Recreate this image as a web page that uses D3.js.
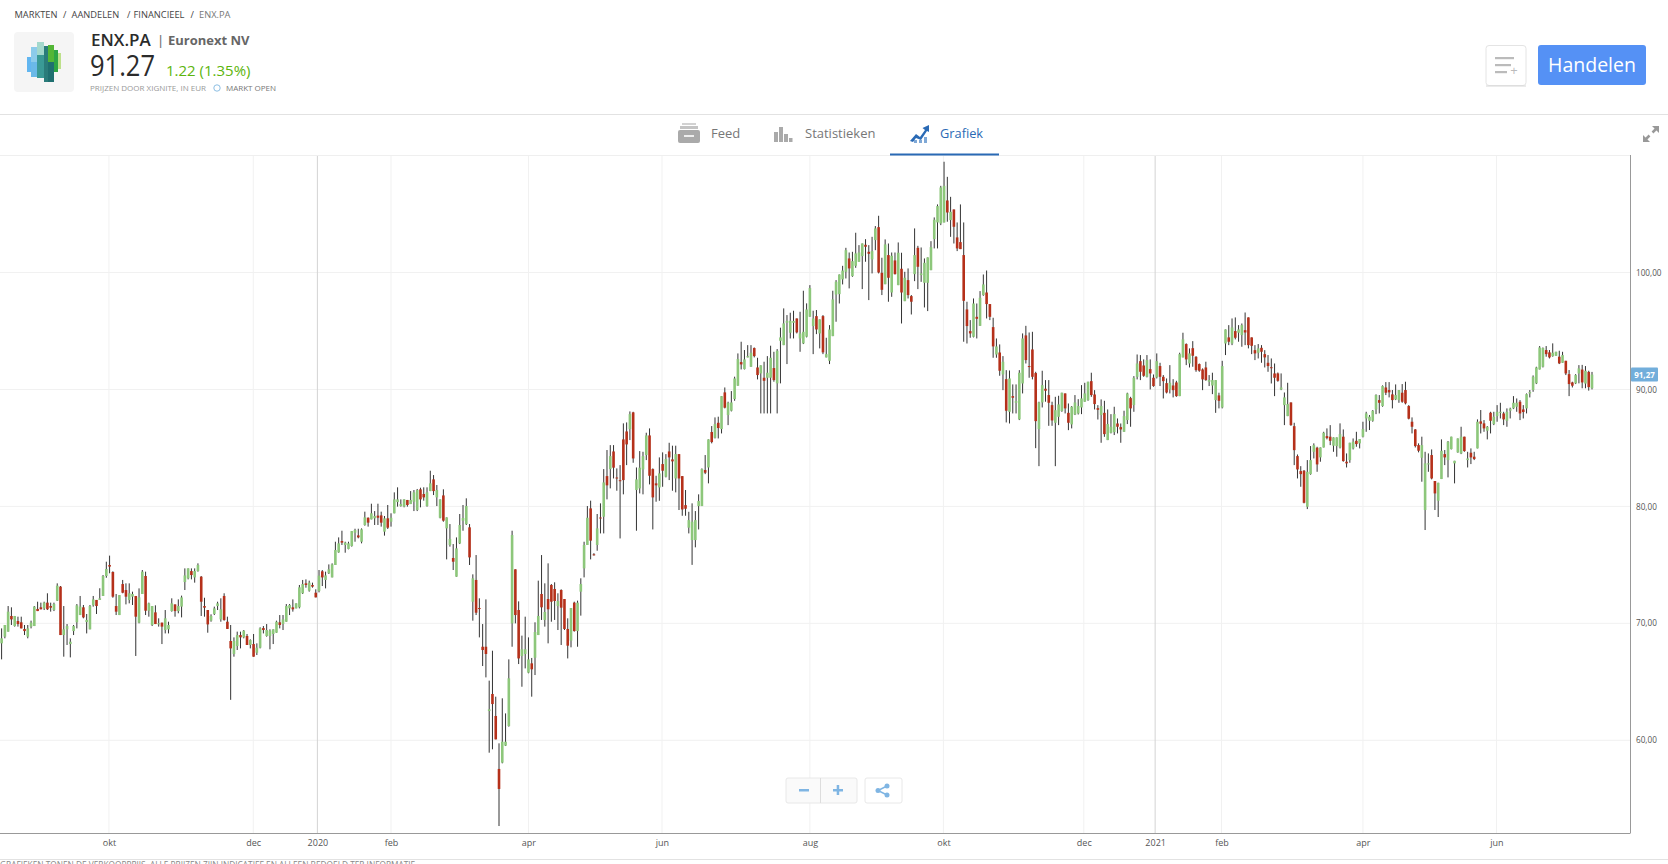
<!DOCTYPE html>
<html>
<head>
<meta charset="utf-8">
<script src="https://cdn.jsdelivr.net/npm/d3@7"></script>
<style>
  body { margin: 0; background: #fff; overflow: hidden; }
  text { font-family: "Open Sans", sans-serif; }
</style>
</head>
<body>
<div id="chart"></div>
<script>
var svgWidth = 1668;
var svgHeight = 864;

// daily prices, ten bars per row
var opens = [
  68.29,68.86,69.29,70.63,69.77,70.2,70.09,69.52,68.86,69.72,
  69.77,71.23,71.37,71.28,71.77,71.48,71.14,71.94,73.14,69.0,
  69.49,68.23,69.34,70.09,70.71,71.37,70.11,69.49,71.54,72.0,
  72.0,72.34,74.05,74.99,74.39,71.48,70.71,73.36,72.85,72.0,
  72.28,72.34,70.06,72.51,74.05,71.08,69.86,70.94,69.94,70.06,
  69.43,69.49,71.05,71.62,71.05,71.43,73.53,73.85,74.47,73.93,
  74.47,73.99,71.48,71.14,70.23,70.8,71.48,70.34,72.34,70.14,
  68.49,67.38,68.06,69.0,68.8,68.92,68.15,68.23,67.49,67.92,
  69.6,68.92,68.92,69.09,69.2,70.09,69.94,70.14,71.28,71.37,
  71.28,71.37,72.57,73.42,72.79,73.28,72.62,72.76,74.45,73.71,
  74.28,73.93,74.99,76.07,77.04,76.7,76.36,76.61,77.75,77.52,
  76.98,78.41,79.03,78.89,78.98,79.21,79.23,77.84,78.98,78.69,
  79.41,80.37,80.03,79.98,80.55,80.2,80.4,79.69,81.46,81.06,
  80.03,81.31,82.31,80.77,79.03,80.94,78.12,76.7,75.59,73.99,
  76.84,78.78,78.49,78.21,71.85,73.71,71.31,68.0,68.0,62.5,
  63.96,62.08,57.55,58.09,59.54,61.22,70.0,74.62,71.14,67.21,
  67.38,65.78,66.58,67.06,69.0,72.51,70.29,72.08,73.28,72.94,
  71.48,72.85,72.08,69.52,68.52,71.77,69.34,72.71,74.7,76.7,
  79.83,75.9,76.7,79.05,79.12,82.59,83.19,84.7,82.47,82.24,
  85.73,86.41,86.61,88.04,81.4,81.54,83.16,84.39,86.07,83.19,
  81.97,81.62,83.62,82.54,84.7,84.02,82.39,84.47,82.59,80.11,
  78.18,77.12,77.12,80.03,80.03,83.11,83.33,86.36,85.87,87.15,
  86.61,89.75,87.81,88.18,89.18,90.32,92.34,91.74,92.74,91.94,
  93.54,91.88,91.37,91.0,91.0,91.0,91.83,90.52,94.16,93.79,
  95.7,94.85,95.7,96.07,94.36,93.94,94.51,96.22,95.42,96.27,
  94.79,96.27,92.74,92.45,94.56,98.12,98.15,99.41,100.06,101.2,
  99.69,100.57,100.92,101.4,102.37,101.77,101.12,102.77,103.88,99.97,
  99.0,101.49,98.29,101.03,98.92,100.32,97.55,99.35,97.98,99.86,
  102.11,99.78,99.12,99.12,100.2,102.85,104.28,104.19,104.28,106.16,
  104.48,105.39,103.0,102.6,101.49,96.84,94.99,94.5,96.21,95.44,
  98.07,98.29,97.3,95.33,92.99,93.16,91.28,90.88,88.09,89.43,
  88.86,87.44,90.51,94.62,92.0,93.42,91.4,86.61,88.89,90.06,
  89.52,88.66,87.15,87.66,88.15,89.66,88.0,87.01,87.86,87.95,
  88.46,88.95,89.09,90.71,89.57,88.4,87.81,88.0,85.67,86.29,
  86.35,87.09,86.78,86.38,87.38,89.26,88.66,91.08,92.42,92.05,
  91.08,91.74,91.0,91.03,92.0,91.08,90.54,90.0,90.34,90.6,
  89.43,92.74,93.88,92.22,93.53,92.79,92.17,91.71,91.88,90.66,
  90.34,89.09,89.49,88.46,93.93,94.45,93.93,94.99,94.85,94.65,
  95.07,96.16,94.45,93.36,93.14,93.56,93.02,92.28,91.9,91.37,
  91.37,90.0,88.66,87.72,88.89,86.86,84.3,83.02,83.05,79.97,
  82.76,84.67,85.02,84.19,85.04,86.01,85.96,85.19,85.16,85.04,
  85.96,83.82,83.96,84.96,85.61,85.39,85.96,87.52,87.32,87.32,
  88.29,89.09,88.58,90.17,89.95,89.58,89.15,89.09,89.72,89.95,
  88.58,87.24,86.58,85.24,84.16,79.69,83.59,84.39,82.17,80.48,
  82.34,84.47,83.96,84.9,83.68,84.62,84.53,85.96,83.96,84.59,
  84.25,84.96,87.27,87.1,86.47,88.01,87.04,87.72,88.01,87.95,
  87.32,88.18,88.38,88.52,88.95,88.29,88.38,89.66,89.95,90.52,
  91.71,91.94,93.37,93.17,92.85,92.88,92.8,92.28,92.45,91.31,
  90.6,90.52,91.37,91.7,90.5,91.5,90.1
];
var highs = [
  69.57,69.86,71.48,71.37,70.63,70.57,70.57,69.86,69.86,70.23,
  71.48,71.85,71.77,71.85,72.57,71.77,71.77,73.42,73.19,71.48,
  69.94,68.72,69.86,71.65,72.34,71.57,70.8,71.57,72.34,72.0,
  73.0,74.13,75.27,75.79,74.45,72.51,72.42,73.71,73.42,73.42,
  72.71,72.34,72.99,74.56,74.42,71.77,71.48,71.54,70.43,70.06,
  71.14,70.14,72.14,71.62,72.05,72.37,74.7,74.7,74.7,74.7,
  75.13,74.05,72.19,71.14,70.77,71.43,71.85,72.14,72.57,70.57,
  69.86,68.8,69.29,69.29,69.43,69.09,68.63,69.09,68.29,69.66,
  69.77,69.94,69.49,69.49,70.23,70.71,70.71,71.65,71.65,72.05,
  71.71,73.28,73.71,73.76,73.65,73.48,72.91,74.56,74.56,74.42,
  75.04,75.13,76.98,77.35,77.92,76.98,76.98,77.89,78.09,78.09,
  78.12,79.55,79.06,80.23,79.6,80.23,79.55,79.18,80.12,79.41,
  81.2,81.63,80.6,80.6,80.55,81.31,81.4,81.49,81.6,81.63,
  81.63,83.05,82.68,81.83,80.6,81.46,79.06,78.49,76.78,77.35,
  79.35,80.12,80.69,78.49,74.19,75.84,72.14,69.94,72.05,65.1,
  67.66,63.73,59.74,63.59,62.3,66.92,77.92,74.62,71.88,68.95,
  70.57,68.8,67.04,70.09,73.65,75.84,73.42,75.13,73.36,73.51,
  72.57,72.91,72.08,70.43,71.31,71.85,71.94,73.85,76.98,80.03,
  80.49,76.0,79.35,80.26,83.19,84.82,85.24,85.24,83.25,83.53,
  87.1,87.18,88.12,88.09,83.33,84.73,84.67,86.3,86.67,83.25,
  82.62,84.19,84.62,84.47,85.44,85.19,85.19,84.47,82.59,81.4,
  79.54,80.26,79.6,81.03,83.25,84.39,85.73,86.87,87.61,87.67,
  89.43,90.17,88.95,89.86,91.09,93.08,94.08,93.37,93.79,93.79,
  93.59,92.71,92.06,92.37,92.85,93.74,93.22,93.45,95.28,96.93,
  96.36,96.56,96.73,96.07,96.64,98.44,97.36,98.92,96.73,96.79,
  95.99,96.36,94.42,95.5,98.44,99.35,99.83,100.57,102.11,101.71,
  101.77,103.4,102.34,102.48,102.85,102.34,103.05,103.97,104.85,101.26,
  102.83,102.48,101.71,101.71,102.57,101.69,100.06,100.35,98.07,103.77,
  102.28,102.14,101.2,101.29,102.68,104.71,105.82,107.41,109.47,108.18,
  106.47,105.39,104.28,105.82,104.28,97.5,95.93,97.78,97.35,98.41,
  99.83,100.17,97.3,96.13,94.36,93.85,92.85,91.65,91.62,90.43,
  90.43,91.65,94.79,95.44,94.87,94.93,91.51,88.95,91.6,90.8,
  90.8,88.95,89.37,89.46,89.72,89.66,88.8,88.58,89.52,89.17,
  90.37,90.57,90.66,91.43,89.94,88.66,89.15,89.03,88.29,87.89,
  88.52,87.52,87.09,88.18,89.72,89.37,91.14,92.99,92.94,92.57,
  92.94,92.57,91.28,93.08,92.28,91.23,90.94,92.08,90.88,90.74,
  93.14,94.85,93.94,93.51,94.13,92.85,92.22,91.8,92.37,91.23,
  91.43,90.8,89.72,92.45,95.13,95.5,96.07,96.16,95.5,95.64,
  96.58,96.16,94.45,93.79,93.88,93.79,93.36,92.94,92.65,92.22,
  91.45,91.37,89.74,90.57,88.89,87.15,84.44,83.44,83.11,83.96,
  85.16,85.39,85.1,85.04,86.38,86.67,86.95,85.9,85.9,87.1,
  86.58,84.53,85.44,85.81,86.38,85.76,87.24,88.09,87.81,88.24,
  89.58,89.52,90.35,90.63,90.63,89.95,90.43,89.95,90.46,90.66,
  88.66,87.61,86.61,85.39,85.96,84.67,84.53,84.87,82.17,82.02,
  85.73,84.82,85.59,85.96,83.9,85.81,86.81,85.96,84.67,84.96,
  84.67,87.44,88.24,87.38,86.87,88.09,88.09,88.66,88.86,88.09,
  88.38,88.44,89.43,89.23,89.09,88.66,89.66,89.95,91.2,91.94,
  93.71,93.59,93.71,93.37,93.94,93.22,93.31,93.22,92.45,91.66,
  90.66,91.31,92.08,92.1,92.0,91.6,91.5
];
var lows = [
  66.92,68.72,69.29,69.86,69.72,69.72,69.57,69.0,68.72,69.57,
  69.77,71.05,71.2,71.14,71.14,71.0,71.05,71.91,69.0,67.15,
  68.15,67.09,69.0,69.57,70.71,70.43,69.14,69.49,71.43,70.8,
  72.0,72.34,73.9,74.28,72.19,70.71,70.71,72.57,71.62,71.71,
  71.57,67.21,70.0,72.51,70.71,70.57,69.77,69.94,69.72,68.23,
  69.14,69.14,71.0,70.57,70.86,70.51,72.85,73.76,73.76,73.48,
  74.42,70.63,70.57,69.2,70.14,70.71,71.14,70.14,70.23,69.52,
  63.46,67.15,67.72,67.86,68.72,68.15,67.86,67.15,67.29,67.86,
  69.14,68.86,67.78,68.23,69.2,69.57,69.43,70.14,70.71,71.0,
  71.28,71.28,72.51,73.05,72.71,73.05,72.22,72.65,73.19,72.99,
  74.22,73.93,74.99,76.04,76.7,76.04,76.33,76.56,76.98,77.27,
  76.84,78.35,78.27,78.89,78.41,78.41,78.27,77.5,78.07,78.27,
  79.41,79.98,79.98,79.92,79.98,80.2,79.6,79.6,79.92,80.49,
  79.98,81.31,80.97,80.03,78.98,78.69,75.47,76.56,74.56,73.99,
  76.78,77.92,78.41,74.99,70.23,70.71,68.8,66.35,65.38,58.94,
  59.23,60.08,52.67,58.03,59.51,61.17,68.0,70.0,66.52,64.58,
  66.15,65.73,63.73,65.58,69.0,70.29,69.72,68.29,70.14,70.29,
  69.43,68.15,69.43,67.0,67.95,69.29,68.0,70.66,73.93,76.7,
  75.47,75.8,76.21,77.69,77.69,80.6,81.54,82.39,81.34,77.26,
  81.03,83.53,85.67,83.73,77.92,81.11,81.03,83.96,81.88,78.03,
  80.4,80.48,81.68,82.48,82.25,81.34,81.2,79.69,79.2,79.2,
  77.69,75.0,76.5,78.03,80.03,82.76,81.97,85.39,85.81,85.81,
  86.24,88.38,86.95,88.12,89.03,90.32,91.71,91.71,92.74,91.94,
  92.74,90.86,87.95,87.95,87.95,87.95,90.66,87.95,90.52,93.79,
  92.17,94.36,94.36,94.79,93.22,93.88,94.45,96.22,93.02,94.73,
  93.51,93.02,92.74,92.17,94.56,95.79,97.35,98.98,99.49,98.64,
  99.63,100.4,100.92,98.58,100.92,97.64,99.92,101.91,99.92,98.07,
  99.0,97.5,97.92,99.83,98.92,95.64,97.55,97.78,96.41,99.26,
  98.58,99.2,97.01,96.7,100.2,102.06,102.06,104.05,104.28,104.34,
  103.05,102.48,101.83,102.0,94.08,93.93,94.42,94.45,94.36,95.44,
  98.01,96.07,95.93,92.71,92.71,91.17,89.94,87.18,87.09,87.95,
  87.95,87.38,89.66,92.22,91.0,90.86,84.98,83.44,88.46,88.95,
  86.89,86.89,83.44,86.95,88.09,87.95,86.52,86.67,87.81,87.86,
  87.89,88.95,89.03,89.37,88.29,87.43,85.44,85.95,85.67,86.24,
  86.1,86.24,85.44,86.38,87.04,86.81,88.09,90.86,90.8,91.08,
  91.03,90.0,90.23,90.94,90.29,89.23,89.66,89.66,89.32,89.37,
  89.43,92.74,92.08,91.88,91.94,91.51,91.51,89.94,90.74,90.29,
  89.6,88.0,88.38,88.38,92.94,93.79,93.79,94.28,94.08,93.65,
  93.79,93.51,93.02,92.51,92.65,92.28,91.88,91.51,90.51,89.43,
  90.66,89.94,86.95,87.72,86.89,83.53,82.39,81.68,80.26,79.77,
  82.71,84.1,82.96,83.82,85.04,85.73,85.24,84.67,84.25,84.96,
  83.82,83.33,83.73,84.87,85.1,84.96,85.9,86.38,86.53,87.24,
  87.89,87.95,88.52,89.52,89.32,88.38,89.09,88.86,88.86,88.72,
  87.44,86.24,85.04,84.62,82.11,77.98,82.96,82.31,79.69,79.09,
  82.34,83.53,82.48,84.87,81.97,84.59,84.47,84.67,83.33,83.62,
  83.96,84.96,86.24,86.38,85.73,86.24,86.95,87.24,87.52,86.95,
  86.81,87.52,88.32,88.09,87.38,87.52,87.95,89.32,89.8,90.46,
  91.71,91.88,92.8,92.65,92.8,92.88,92.17,92.28,91.23,89.43,
  90.17,90.46,90.52,90.1,90.1,89.9,90.0
];
var closes = [
  68.72,69.86,71.0,70.34,70.63,69.94,69.57,69.34,69.57,70.06,
  71.43,71.05,71.2,71.77,71.2,71.34,71.65,73.22,69.0,69.49,
  69.77,68.43,69.77,71.54,71.43,70.51,70.29,71.48,72.05,71.48,
  72.14,74.05,74.65,74.85,72.28,71.0,72.42,72.62,72.28,72.57,
  72.51,70.57,72.22,74.42,71.08,71.71,71.48,69.94,70.0,69.72,
  70.43,69.86,71.71,71.05,71.48,72.22,74.1,74.7,74.13,74.47,
  74.99,71.85,71.34,69.91,70.63,71.28,71.71,71.2,70.28,69.52,
  67.86,68.49,69.0,68.8,69.37,68.15,68.57,67.15,67.92,69.57,
  69.43,69.43,69.37,69.49,70.14,69.86,70.34,71.48,71.57,71.2,
  71.71,73.08,73.36,73.28,73.48,73.14,72.22,74.08,73.93,74.1,
  74.62,75.04,76.27,76.84,76.9,76.9,76.84,77.89,77.98,77.35,
  78.04,79.06,78.61,79.41,79.18,79.03,78.61,78.98,78.18,79.03,
  80.6,80.6,80.2,80.6,80.12,80.55,81.2,81.4,80.6,80.77,
  81.2,81.97,81.31,81.4,80.6,78.78,79.06,77.21,75.27,76.41,
  78.41,79.01,80.03,75.64,73.85,70.91,71.25,67.72,67.38,62.65,
  63.1,60.08,55.84,59.88,59.88,65.3,77.55,70.71,67.0,67.78,
  67.78,66.92,66.07,69.26,70.63,71.37,70.97,71.2,71.85,71.91,
  71.91,71.34,69.52,68.09,71.31,69.34,71.77,73.36,76.7,79.03,
  77.07,75.88,78.12,79.03,82.05,81.8,84.3,83.31,82.43,82.2,
  82.25,85.3,87.89,84.1,82.31,83.31,84.3,86.07,82.62,80.77,
  81.8,82.82,83.05,84.05,84.19,83.85,84.47,82.39,79.74,79.8,
  78.83,78.69,78.83,80.46,83.19,82.88,85.73,85.5,87.04,86.7,
  89.43,88.44,88.86,88.89,90.94,92.6,92.14,92.57,92.85,93.14,
  92.85,91.23,92.06,90.74,91.43,92.71,90.8,93.31,94.45,95.65,
  95.87,95.87,95.85,94.88,94.79,94.93,96.84,98.67,96.07,95.13,
  95.99,93.17,93.02,95.13,97.7,99.21,99.83,100.17,101.91,100.35,
  100.97,101.63,101.71,102.48,102.2,101.6,101.83,103.77,100.0,98.52,
  102.4,99.55,101.43,99.86,101.69,98.29,99.55,98.07,97.5,101.49,
  100.49,99.92,100.83,101.29,102.17,104.51,105.68,107.27,107.41,105.13,
  105.19,103.91,102.06,102.0,97.58,95.42,94.79,97.35,96.04,97.84,
  98.98,97.3,96.21,93.68,93.68,91.6,92.37,88.18,90.94,89.29,
  89.0,91.43,94.36,92.51,91.98,91.08,87.29,88.89,90.37,89.89,
  88.86,87.35,88.23,88.72,89.72,88.38,87.15,88.52,88.89,88.58,
  89.23,89.66,90.66,89.52,88.75,88.26,88.58,86.18,87.04,86.81,
  87.89,86.81,86.58,87.72,89.66,88.38,91.0,92.22,91.51,91.17,
  92.51,91.37,90.29,92.42,91.08,90.71,89.74,90.57,89.94,89.43,
  93.02,94.28,92.57,93.08,92.88,91.65,91.6,90.86,90.8,90.8,
  90.8,90.8,89.03,92.0,95.13,94.08,95.3,94.42,95.13,95.5,
  94.87,93.79,93.73,93.08,93.51,93.22,92.74,92.0,91.87,91.0,
  90.74,90.17,89.32,88.75,86.95,84.81,83.16,82.76,80.31,82.96,
  83.96,85.24,83.59,85.04,86.3,85.84,85.61,85.9,85.9,86.18,
  83.88,83.68,85.44,85.53,85.33,85.76,86.61,87.95,87.67,88.18,
  89.52,88.86,90.29,89.72,89.75,89.09,89.52,89.95,88.95,88.81,
  87.5,86.81,85.16,84.76,85.24,83.68,83.68,82.39,81.11,82.02,
  84.76,84.19,85.53,85.96,83.9,85.81,85.96,84.73,84.1,84.19,
  84.05,87.24,87.07,86.67,86.81,87.32,87.67,88.09,88.09,87.44,
  88.09,88.35,88.86,88.86,87.95,88.07,89.6,89.78,91.09,91.88,
  93.59,93.54,93.02,92.74,93.14,93.22,92.23,92.94,91.37,90.46,
  90.32,91.23,91.8,90.6,91.6,90.2,91.27
];

var priceTicks = [60, 70, 80, 90, 100];
// month ticks sit at these bar positions
var monthTicks = [32.8, 76.9, 96.5, 119, 161, 201.8, 247, 287.8, 330.7, 352.5, 372.8, 416, 456.8];
var monthLabels = ["okt", "dec", "2020", "feb", "apr", "jun", "aug", "okt", "dec", "2021", "feb", "apr", "jun"];
var yearTicks = ["2020", "2021"];
var lastPrice = closes[closes.length - 1];

var plot = { left: 0, right: 1630, top: 155, bottom: 833 };

var svg = d3.select("#chart")
  .append("svg")
  .attr("width", svgWidth)
  .attr("height", svgHeight)
  .style("display", "block");

var xScale = d3.scaleLinear().domain([0, opens.length - 1]).range([1.6, 1592]);
var yScale = d3.scaleLinear().domain([60, 100]).range([740.3, 272.5]);

// grid
var grid = svg.append("g");
grid.selectAll(".hgrid").data(priceTicks).enter().append("line")
  .attr("x1", plot.left).attr("x2", plot.right)
  .attr("y1", d => yScale(d)).attr("y2", d => yScale(d))
  .attr("stroke", "#f1f1f1").attr("stroke-width", 1);
grid.selectAll(".vgrid").data(monthTicks).enter().append("line")
  .attr("x1", d => xScale(d)).attr("x2", d => xScale(d))
  .attr("y1", plot.top).attr("y2", plot.bottom)
  .attr("stroke", (d, i) => yearTicks.includes(monthLabels[i]) ? "#d3d3d3" : "#f1f1f1")
  .attr("stroke-width", 1);

// candles
var idx = d3.range(opens.length);
var candles = svg.append("g");
candles.selectAll("line").data(idx).enter().append("line")
  .attr("x1", i => xScale(i)).attr("x2", i => xScale(i))
  .attr("y1", i => yScale(highs[i])).attr("y2", i => yScale(lows[i]))
  .attr("stroke", "#333").attr("stroke-width", 1);
candles.selectAll("rect").data(idx).enter().append("rect")
  .attr("x", i => xScale(i) - 1.3)
  .attr("width", 2.6)
  .attr("y", i => yScale(Math.max(opens[i], closes[i])))
  .attr("height", i => Math.max(1, Math.abs(yScale(opens[i]) - yScale(closes[i]))))
  .attr("fill", i => closes[i] >= opens[i] ? "#8dc77b" : "#b5301a");

// axes
var xAxis = d3.axisBottom(xScale).tickValues(monthTicks)
  .tickSize(0).tickPadding(7)
  .tickFormat((d, i) => monthLabels[i]);
var yAxis = d3.axisRight(yScale).tickValues(priceTicks)
  .tickSize(0).tickPadding(6)
  .tickFormat(d => d.toFixed(2).replace(".", ","));

var xG = svg.append("g").attr("transform", `translate(0,${plot.bottom})`).call(xAxis);
xG.select(".domain").remove();
xG.selectAll("text").attr("font-size", 9).attr("fill", "#555").style("font-family", "Open Sans");
var yG = svg.append("g").attr("transform", `translate(${plot.right},0)`).call(yAxis);
yG.select(".domain").remove();
yG.selectAll("text").attr("font-size", 8.2).attr("fill", "#555").style("font-family", "Open Sans");

svg.append("line").attr("x1", plot.right + 0.5).attr("x2", plot.right + 0.5)
  .attr("y1", plot.top).attr("y2", plot.bottom).attr("stroke", "#999");
svg.append("line").attr("x1", 0).attr("x2", plot.right + 0.5)
  .attr("y1", plot.bottom + 0.5).attr("y2", plot.bottom + 0.5).attr("stroke", "#999");

// last price flag
svg.append("rect").attr("x", 1631).attr("y", yScale(lastPrice) - 7).attr("width", 27).attr("height", 14)
  .attr("rx", 1).attr("fill", "#72aedb");
svg.append("text").attr("x", 1644.5).attr("y", yScale(lastPrice) + 3)
  .attr("text-anchor", "middle").attr("font-size", 8).attr("font-weight", 700).attr("fill", "#fff")
  .text(lastPrice.toFixed(2).replace(".", ","));

function label(x, y, str, size, color, weight, anchor) {
  return svg.append("text").attr("x", x).attr("y", y).attr("font-size", size)
    .attr("fill", color).attr("font-weight", weight || 400)
    .attr("text-anchor", anchor || "start").text(str);
}

// page header
label(14.5, 18, "MARKTEN", 9.3, "#444");
label(63, 18, "/", 9.3, "#444");
label(71.5, 18, "AANDELEN", 9.3, "#444");
label(127, 18, "/", 9.3, "#444");
label(133.5, 18, "FINANCIEEL", 9.3, "#444");
label(190.5, 18, "/", 9.3, "#444");
label(199, 18, "ENX.PA", 9.3, "#777");

svg.append("rect").attr("x", 14).attr("y", 32).attr("width", 60).attr("height", 60).attr("rx", 4).attr("fill", "#f5f5f5");
var logo = svg.append("g");
[[27, 57, 4, 15, "#62b6f0"], [31, 47, 6, 15, "#8ccbea"], [31, 62, 6, 15, "#6ab9e8"], [37, 42, 7, 13, "#a3d8cc"], [37, 55, 7, 23, "#3a9a96"],
 [44, 46, 4, 36, "#2a7c7a"], [48, 45, 6, 17, "#53b636"], [48, 62, 6, 20, "#1f6f70"], [54, 50, 4, 22, "#2da545"], [58, 53, 3, 16, "#bde08a"]]
  .forEach(b => logo.append("rect").attr("x", b[0]).attr("y", b[1]).attr("width", b[2]).attr("height", b[3]).attr("fill", b[4]));

label(91, 46, "ENX.PA", 17, "#2b2b2b", 600);
label(157, 45, "|", 13, "#777", 600);
label(168, 45, "Euronext NV", 13, "#666", 700);
label(90, 76, "91.27", 29, "#2b2b2b", 400).attr("textLength", 65).attr("lengthAdjust", "spacingAndGlyphs");
label(166, 76, "1.22 (1.35%)", 15, "#5cb50c", 400);
label(90, 91, "PRIJZEN DOOR XIGNITE, IN EUR", 8, "#999");
svg.append("circle").attr("cx", 217).attr("cy", 88).attr("r", 3.2).attr("fill", "none").attr("stroke", "#8dbfe4").attr("stroke-width", 1);
label(226, 91, "MARKT OPEN", 8, "#777");

// header buttons
svg.append("rect").attr("x", 1486).attr("y", 45.5).attr("width", 40).attr("height", 40).attr("rx", 3)
  .attr("fill", "#fff").attr("stroke", "#e4e4e4");
svg.append("line").attr("x1", 1486).attr("x2", 1526).attr("y1", 86).attr("y2", 86).attr("stroke", "#d8d8d8");
[[1495, 19, 58], [1495, 16, 65], [1495, 12, 72]].forEach(b =>
  svg.append("rect").attr("x", b[0]).attr("y", b[2] - 1).attr("width", b[1]).attr("height", 2.2).attr("fill", "#bbb"));
label(1514, 75, "+", 13, "#bbb", 400, "middle");
svg.append("rect").attr("x", 1538).attr("y", 45).attr("width", 108).attr("height", 40).attr("rx", 3).attr("fill", "#5591f5");
label(1592, 72, "Handelen", 19.5, "#fff", 400, "middle");

svg.append("line").attr("x1", 0).attr("x2", svgWidth).attr("y1", 114.5).attr("y2", 114.5).attr("stroke", "#e2e2e2");
svg.append("line").attr("x1", 0).attr("x2", plot.right).attr("y1", 155.5).attr("y2", 155.5).attr("stroke", "#efefef");

// tabs
svg.append("rect").attr("x", 678).attr("y", 130).attr("width", 22).attr("height", 13).attr("rx", 2).attr("fill", "#aaa");
svg.append("rect").attr("x", 680).attr("y", 126).attr("width", 18).attr("height", 3).attr("fill", "#c4c4c4");
svg.append("rect").attr("x", 682).attr("y", 123).attr("width", 14).attr("height", 2).attr("fill", "#d2d2d2");
svg.append("rect").attr("x", 684).attr("y", 135).attr("width", 10).attr("height", 2).attr("fill", "#eee");
label(711, 138, "Feed", 13, "#777");
[[774, 132, 4, 10], [779, 127, 4, 15], [784, 134, 4, 8], [789, 138, 3.5, 4]].forEach(b =>
  svg.append("rect").attr("x", b[0]).attr("y", b[1]).attr("width", b[2]).attr("height", b[3]).attr("fill", "#aaa"));
label(805, 138, "Statistieken", 13, "#777");
svg.append("path").attr("d", "M910,141 L916,134 L920,137 L925,130 L922.5,128 L929,125 L929,132 L927,131 L921,140 L916,138 L913,142 Z").attr("fill", "#2a6ab5");
[[914, 140, 3, 3], [919, 140, 3, 3], [924, 137, 3, 6]].forEach(b =>
  svg.append("rect").attr("x", b[0]).attr("y", b[1]).attr("width", b[2]).attr("height", b[3]).attr("fill", "#7fa8d6"));
label(940, 138, "Grafiek", 12.8, "#2a6ab5");
svg.append("rect").attr("x", 890).attr("y", 153.5).attr("width", 109).attr("height", 2).attr("fill", "#2a6ab5");

// fullscreen icon
svg.append("path").attr("d", "M1659,126 L1652,126 L1659,133 Z").attr("fill", "#999");
svg.append("path").attr("d", "M1643,142 L1650,142 L1643,135 Z").attr("fill", "#999");
svg.append("line").attr("x1", 1656).attr("y1", 129).attr("x2", 1652.5).attr("y2", 132.5).attr("stroke", "#999").attr("stroke-width", 2.5);
svg.append("line").attr("x1", 1646).attr("y1", 139).attr("x2", 1649.5).attr("y2", 135.5).attr("stroke", "#999").attr("stroke-width", 2.5);

// zoom buttons
svg.append("rect").attr("x", 786).attr("y", 778).attr("width", 71).attr("height", 25).attr("rx", 2).attr("fill", "#fafafa").attr("stroke", "#e8e8e8");
svg.append("line").attr("x1", 820.5).attr("x2", 820.5).attr("y1", 778).attr("y2", 803).attr("stroke", "#ddd");
svg.append("rect").attr("x", 799).attr("y", 789).attr("width", 10).attr("height", 2.5).attr("fill", "#7fb5e3");
svg.append("rect").attr("x", 833).attr("y", 789).attr("width", 10).attr("height", 2.5).attr("fill", "#7fb5e3");
svg.append("rect").attr("x", 836.7).attr("y", 785).attr("width", 2.5).attr("height", 10).attr("fill", "#7fb5e3");
svg.append("rect").attr("x", 865).attr("y", 778).attr("width", 37).attr("height", 25).attr("rx", 2).attr("fill", "#fff").attr("stroke", "#e8e8e8");
svg.append("path").attr("d", "M887,786 L878,790.5 L887,795").attr("fill", "none").attr("stroke", "#7fb5e3").attr("stroke-width", 1.5);
[[887, 786], [878, 790.5], [887, 795]].forEach(p =>
  svg.append("circle").attr("cx", p[0]).attr("cy", p[1]).attr("r", 2.5).attr("fill", "#7fb5e3"));

// footer, cut by the window edge
svg.append("line").attr("x1", 0).attr("x2", svgWidth).attr("y1", 859.5).attr("y2", 859.5).attr("stroke", "#e2e2e2");
label(0, 868, "GRAFIEKEN TONEN DE VERKOOPPRIJS, ALLE PRIJZEN ZIJN INDICATIEF EN ALLEEN BEDOELD TER INFORMATIE", 8.3, "#888");
</script>
</body>
</html>
